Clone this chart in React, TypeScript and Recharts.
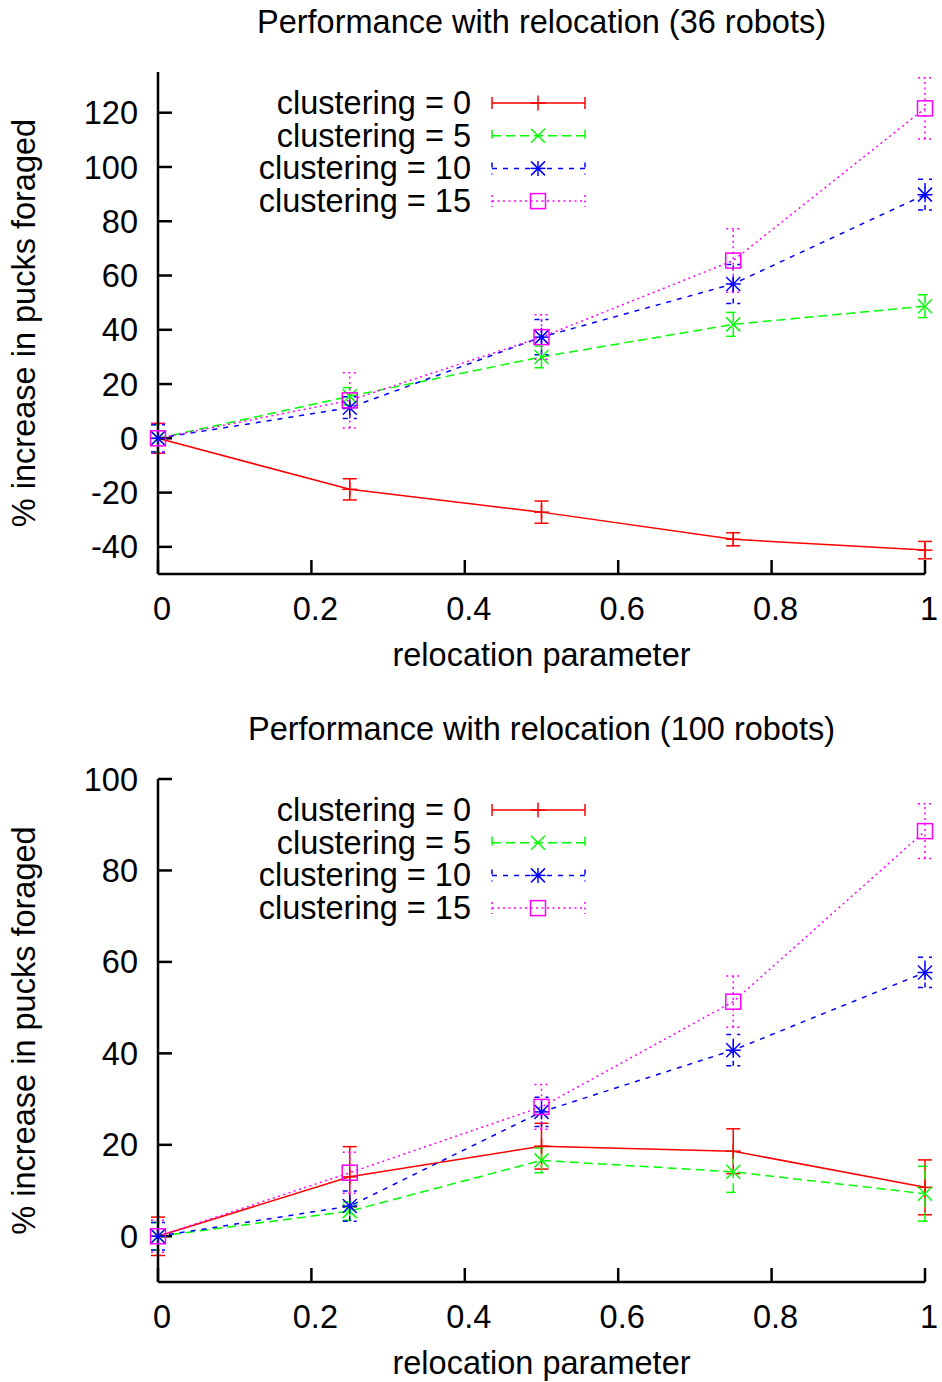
import { LineChart, Line, XAxis, YAxis, ErrorBar, Legend } from "recharts";

// relocation parameter values (x axis)
const relocation = [0, 0.25, 0.5, 0.75, 1];
const xTicks = [0, 0.2, 0.4, 0.6, 0.8, 1];

const seriesLabels = ["clustering = 0", "clustering = 5", "clustering = 10", "clustering = 15"];

// 36 robots: mean % increase and error (+/-)
const r36c0 = [0, -18.8, -27.2, -37.2, -41.2];
const r36c0Err = [5.5, 3.9, 4.1, 2.4, 3.2];
const r36c5 = [0, 15.5, 30, 42, 48.7];
const r36c5Err = [5, 3.2, 4, 4.4, 4.2];
const r36c10 = [0, 11.3, 37.3, 56.9, 89.8];
const r36c10Err = [5, 4, 6.5, 7.2, 5.7];
const r36c15 = [0, 14, 37.3, 65.5, 121.6];
const r36c15Err = [5.5, 10.2, 8.2, 11.7, 11.3];
const r36YTicks = [-40, -20, 0, 20, 40, 60, 80, 100, 120];

// 100 robots
const r100c0 = [0, 13, 19.7, 18.6, 10.7];
const r100c0Err = [4.2, 6.6, 5, 4.9, 6];
const r100c5 = [0, 5.5, 16.6, 14.1, 9.3];
const r100c5Err = [3, 2, 2.7, 4.5, 6];
const r100c10 = [0, 6.6, 27.2, 40.7, 57.7];
const r100c10Err = [3, 3.3, 3.2, 3.4, 3.3];
const r100c15 = [0, 13.9, 28.3, 51.3, 88.6];
const r100c15Err = [3.5, 4.5, 4.9, 5.6, 6];
const r100YTicks = [0, 20, 40, 60, 80, 100];

const FONT = "'Liberation Sans', Arial, Helvetica, sans-serif";
const FS = 32.5;

type Shape = "plus" | "cross" | "star" | "square";

const series: { key: string; color: string; dash?: string; shape: Shape }[] = [
  { key: "c0", color: "#ff0000", shape: "plus" },
  { key: "c5", color: "#00ff00", dash: "9 5", shape: "cross" },
  { key: "c10", color: "#0000ff", dash: "5 6", shape: "star" },
  { key: "c15", color: "#ff00ff", dash: "2 3.5", shape: "square" },
];

function buildRows(vals: number[][], errs: number[][]) {
  return relocation.map((x, i) => ({
    x,
    c0: vals[0][i], c0e: errs[0][i],
    c5: vals[1][i], c5e: errs[1][i],
    c10: vals[2][i], c10e: errs[2][i],
    c15: vals[3][i], c15e: errs[3][i],
  }));
}

const data36 = buildRows([r36c0, r36c5, r36c10, r36c15], [r36c0Err, r36c5Err, r36c10Err, r36c15Err]);
const data100 = buildRows([r100c0, r100c5, r100c10, r100c15], [r100c0Err, r100c5Err, r100c10Err, r100c15Err]);

function Marker({ shape, cx, cy, color }: { shape: Shape; cx: number; cy: number; color: string }) {
  const p = 7.5;
  const c = 7;
  const plus = (
    <>
      <line x1={cx - p} y1={cy} x2={cx + p} y2={cy} />
      <line x1={cx} y1={cy - p} x2={cx} y2={cy + p} />
    </>
  );
  const cross = (
    <>
      <line x1={cx - c} y1={cy - c} x2={cx + c} y2={cy + c} />
      <line x1={cx - c} y1={cy + c} x2={cx + c} y2={cy - c} />
    </>
  );
  return (
    <g stroke={color} strokeWidth={1.5} fill="none">
      {shape === "plus" && plus}
      {shape === "cross" && cross}
      {shape === "star" && (
        <>
          {plus}
          {cross}
        </>
      )}
      {shape === "square" && <rect x={cx - 7.5} y={cy - 7.5} width={15} height={15} />}
    </g>
  );
}

function LegendBox() {
  return (
    <svg width={620} height={150} style={{ overflow: "visible" }}>
      {series.map((s, i) => {
        const y = 31 + i * 32.7;
        return (
          <g key={s.key}>
            <text x={471} y={y} textAnchor="end" dominantBaseline="central" fontSize={FS} fontFamily={FONT} fill="#000">
              {seriesLabels[i]}
            </text>
            <g stroke={s.color} strokeWidth={1.5} strokeDasharray={s.dash}>
              <line x1={492} y1={y} x2={585} y2={y} />
              <line x1={492} y1={y - 6} x2={492} y2={y + 6} />
              <line x1={585} y1={y - 6} x2={585} y2={y + 6} />
            </g>
            <Marker shape={s.shape} cx={538} cy={y} color={s.color} />
          </g>
        );
      })}
    </svg>
  );
}

interface PanelProps {
  title: string;
  data: ReturnType<typeof buildRows>;
  yDomain: [number, number];
  yTicks: number[];
  top: number;
  plotTop: number;
  xAxisHeight: number;
}

function Panel({ title, data, yDomain, yTicks, top, plotTop, xAxisHeight }: PanelProps) {
  const tickStyle = { fontSize: FS, fill: "#000", fontFamily: FONT };
  return (
    <div style={{ position: "absolute", left: 0, top, width: 942, height: 691 }}>
      <div
        style={{
          position: "absolute",
          left: 158,
          width: 767,
          top: plotTop - 68,
          textAlign: "center",
          fontFamily: FONT,
          fontSize: FS,
          lineHeight: "36px",
          color: "#000",
        }}
      >
        {title}
      </div>
      <LineChart width={942} height={691} data={data} margin={{ top: plotTop, right: 17, left: 0, bottom: 0 }}>
        <XAxis
          type="number"
          dataKey="x"
          domain={[0, 1]}
          ticks={xTicks}
          height={xAxisHeight}
          axisLine={{ stroke: "#000", strokeWidth: 2.5 }}
          tickLine={{ stroke: "#000", strokeWidth: 2.5 }}
          tickSize={-14}
          tickMargin={37}
          tick={{ ...tickStyle, dx: 4 }}
          label={{
            content: ({ viewBox }: any) => (
              <text
                x={viewBox.x + viewBox.width / 2}
                y={viewBox.y + 81}
                textAnchor="middle"
                dominantBaseline="central"
                fontSize={FS}
                fontFamily={FONT}
                fill="#000"
              >
                relocation parameter
              </text>
            ),
          }}
        />
        <YAxis
          type="number"
          domain={yDomain}
          ticks={yTicks}
          width={158}
          axisLine={{ stroke: "#000", strokeWidth: 2.5 }}
          tickLine={{ stroke: "#000", strokeWidth: 2.5 }}
          tickSize={-14}
          tickMargin={34}
          tick={tickStyle}
          allowDataOverflow
          label={{
            content: ({ viewBox }: any) => {
              const x = viewBox.x + 24;
              const y = viewBox.y + viewBox.height / 2;
              return (
                <text
                  x={x}
                  y={y}
                  transform={`rotate(-90 ${x} ${y})`}
                  textAnchor="middle"
                  dominantBaseline="central"
                  fontSize={FS}
                  fontFamily={FONT}
                  fill="#000"
                >
                  % increase in pucks foraged
                </text>
              );
            },
          }}
        />
        <Legend
          layout="vertical"
          align="center"
          verticalAlign="middle"
          wrapperStyle={{ left: 0, top: plotTop, width: 620, height: 150 }}
          content={() => <LegendBox />}
        />
        {series.map((s) => (
          <Line
            key={s.key}
            dataKey={s.key}
            type="linear"
            stroke={s.color}
            strokeWidth={1.5}
            strokeDasharray={s.dash}
            isAnimationActive={false}
            dot={(props: any) => (
              <Marker key={`${s.key}-${props.index}`} shape={s.shape} cx={props.cx} cy={props.cy} color={s.color} />
            )}
            activeDot={false}
          >
            <ErrorBar
              dataKey={`${s.key}e`}
              direction="y"
              width={7}
              stroke={s.color}
              strokeWidth={1.5}
              strokeDasharray={s.dash}
              isAnimationActive={false}
            />
          </Line>
        ))}
      </LineChart>
    </div>
  );
}

export default function App() {
  return (
    <div style={{ position: "absolute", left: 0, top: 0, width: 942, height: 1382, background: "#fff" }}>
      <Panel
        title="Performance with relocation (36 robots)"
        data={data36}
        yDomain={[-50, 135]}
        yTicks={r36YTicks}
        top={0}
        plotTop={72}
        xAxisHeight={117}
      />
      <Panel
        title="Performance with relocation (100 robots)"
        data={data100}
        yDomain={[-10, 100]}
        yTicks={r100YTicks}
        top={691}
        plotTop={88}
        xAxisHeight={100}
      />
    </div>
  );
}
